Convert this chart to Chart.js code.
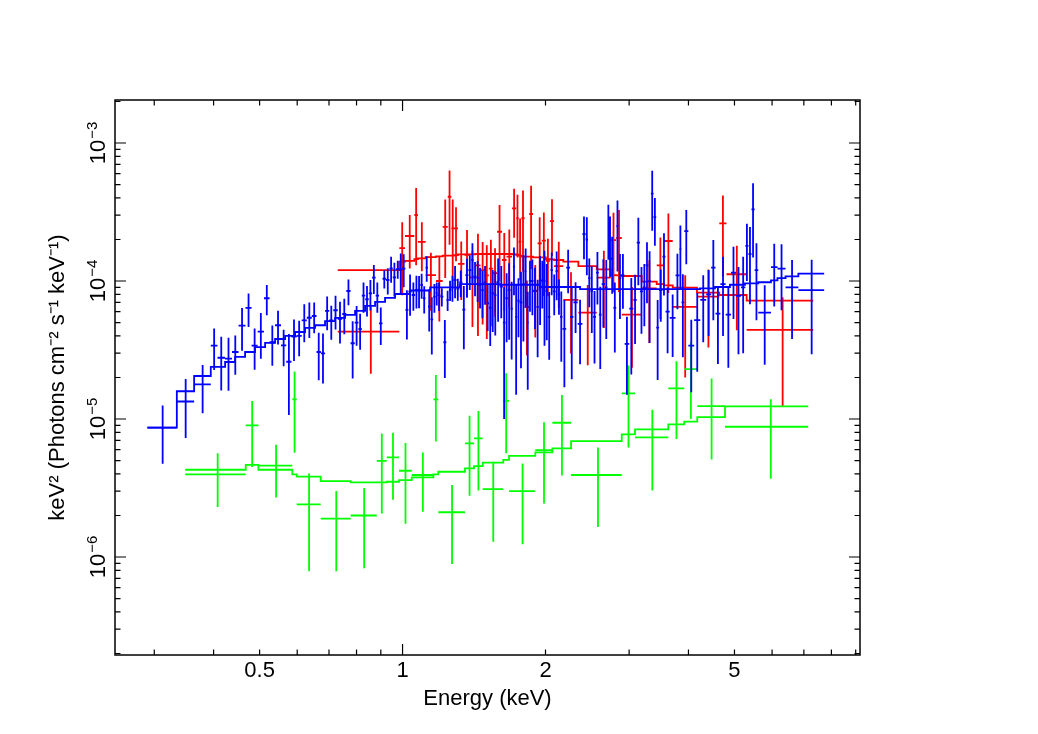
<!DOCTYPE html>
<html lang="en">
<head>
    <meta charset="UTF-8">
    <title>Unfolded spectrum</title>
    <script src="https://cdn.jsdelivr.net/npm/chart.js"></script>
    <style>
        body { margin: 0; background: #fff; }
    </style>
</head>
<body>
    <canvas id="myChart" width="1038" height="734"></canvas>

    <script>
        // fluxes are given in units of 1e-5 keV^2 (photons cm^-2 s^-1 keV^-1), energies in keV
        const FLUX_UNIT = 1e-5;
        const X_MIN = 0.248, X_MAX = 9.19;
        const Y_MIN = 1.95e-7, Y_MAX = 2.05e-3;

        // blue group: bin edges, data, 1-sigma errors
        const blueEdges = [0.2902, 0.3347, 0.3640, 0.3946, 0.4076, 0.4227, 0.4373, 0.4515, 0.4669, 0.4809,
            0.4952, 0.5108, 0.5247, 0.5389, 0.5546, 0.5690, 0.5835, 0.5981, 0.6133, 0.6286,
            0.6441, 0.6589, 0.6731, 0.6867, 0.7008, 0.7148, 0.7303, 0.7464, 0.7614, 0.7771,
            0.7931, 0.8075, 0.8206, 0.8345, 0.8488, 0.8626, 0.8775, 0.8922, 0.9075, 0.9231,
            0.9385, 0.9536, 0.9689, 0.9850,
            0.9975, 1.0139, 1.0288, 1.0453, 1.0625, 1.0767, 1.0899, 1.1040, 1.1175, 1.1311,
            1.1449, 1.1598, 1.1740, 1.1865, 1.2010, 1.2187, 1.2366, 1.2520, 1.2660, 1.2815,
            1.2984, 1.3159, 1.3362, 1.3559, 1.3760, 1.3948, 1.4118, 1.4304, 1.4479, 1.4642,
            1.4821, 1.5016, 1.5205, 1.5391, 1.5579, 1.5772, 1.6016, 1.6265, 1.6463, 1.6665,
            1.6869, 1.7076, 1.7254, 1.7438, 1.7650, 1.7866, 1.8073, 1.8254, 1.8446, 1.8654,
            1.8882, 1.9131, 1.9371, 1.9589, 1.9796, 2.0008, 2.0238, 2.0485, 2.0736, 2.0990,
            2.1237, 2.146, 2.1722, 2.2112, 2.253, 2.2900, 2.3381, 2.3917, 2.4291, 2.4582,
            2.4880, 2.5185, 2.5549, 2.5905, 2.6258, 2.6691, 2.7016, 2.7238, 2.7462, 2.7799,
            2.8181, 2.8522, 2.8871, 2.9350, 3.0013, 3.0624, 3.1124, 3.162, 3.2085, 3.2509,
            3.2920, 3.3337, 3.3771, 3.4213, 3.4688, 3.5265, 3.5784, 3.6525, 3.7571, 3.8260,
            3.8670, 3.9189, 3.9980, 4.1122, 4.2363, 4.3586, 4.4649, 4.5603, 4.6689, 4.7910,
            4.9160, 5.0363, 5.1600, 5.2706, 5.3510, 5.4294, 5.5134, 5.6115, 5.9680, 6.1589,
            6.4050, 6.8158, 7.7239];
        const blueFlux = [0.865, 1.34, 1.78, 3.40, 2.78, 2.74, 3.06, 4.75, 6.38, 3.40,
            4.30, 7.50, 3.60, 4.78, 3.42, 2.60, 3.95, 4.00, 5.19, 5.42,
            5.58, 3.06, 2.99, 6.07, 5.19, 6.14, 5.31, 5.77, 8.47, 3.54,
            4.99, 4.49, 7.83, 7.38, 8.15, 10.57, 7.83, 4.94, 10.39, 10.17,
            12.35, 10.64, 12.2,
            12.0, 12.3, 6.17, 8.37, 7.92, 8.61, 8.61, 9.36, 7.50, 12.5,
            6.52, 5.28, 7.70, 8.2, 7.9, 7.70, 3.60, 7.29, 8.61, 9.0,
            10.17, 8.8, 9.79, 6.2, 11.05, 12.0, 14.2, 10.75, 10.5, 9.4,
            8.61, 9.79, 6.9, 6.4, 8.15, 7.9, 9.8, 9.10, 5.0, 7.5,
            8.6, 6.3, 12.7, 5.5, 7.2, 7.0, 9.5, 11.8, 5.0, 10,
            10, 8.5, 6.5, 10, 10.17, 10, 8.5, 5.5, 12.0, 8.4,
            11.8, 8, 5.5, 4.5, 12.5, 5.5, 7, 4.9, 21.9, 20,
            10.5, 8.5, 5.5, 11.5, 5.7, 9.5, 9.0, 25, 20, 14.5,
            6.4, 25, 10.5, 11, 3.5, 6.3, 7.3, 19, 8.4, 9.0,
            13, 10, 43, 29, 4.6, 8.6, 15, 6, 5.4, 11,
            17, 7, 23, 3.4, 5.2, 7.3, 8, 12.5, 5.8, 9.5,
            5.7, 11.5, 7.8, 9, 18, 15.7, 33, 12, 5.9, 12.6,
            12.3, 9, 8.6];
        const blueErr = [0.39, 0.61, 0.68, 1.13, 1.17, 1.14, 0.97, 1.63, 1.74, 1.12,
            1.57, 1.84, 1.17, 1.31, 1.01, 1.53, 1.32, 1.15, 1.59, 1.56,
            1.40, 1.15, 1.18, 1.67, 1.43, 1.69, 1.78, 1.66, 1.79, 1.57,
            1.60, 1.31, 1.94, 1.84, 2.03, 2.52, 1.94, 1.50, 1.57, 2.20,
            2.63, 2.92, 1.80,
            3.86, 3.3, 2.4, 2.77, 1.83, 2.29, 2.27, 1.93, 1.68, 2.6,
            2.22, 2.35, 1.81, 1.54, 1.84, 1.17, 1.62, 1.22, 1.44, 1.93,
            2.67, 1.6, 2.15, 3.0, 3.45, 3.4, 4.6, 3.0, 3.45, 3.08,
            3.24, 3.07, 2.56, 3.02, 3.87, 3.87, 4.74, 3.73, 4.0, 3.9,
            4.85, 3.6, 4.8, 4.0, 3.28, 4.67, 5.86, 5.4, 3.37, 4.0,
            4.34, 4.0, 3.7, 5.2, 3.84, 6.6, 4.77, 2.81, 4.1, 2.76,
            4.55, 2.3, 2.9, 2.8, 4.34, 3.56, 2.8, 2.41, 7.5, 9.0,
            4.05, 4.3, 2.97, 4.75, 3.4, 4.9, 5.2, 10.75, 9.3, 6.4,
            3.36, 13.3, 5.2, 4.7, 2.0, 4.2, 3.8, 9.7, 4.25, 4.3,
            6.1, 6.45, 19.9, 11.0, 2.68, 3.53, 7.15, 3.0, 2.58, 4.75,
            8.3, 4.2, 9.75, 1.84, 3.0, 3.7, 4.0, 7.3, 3.3, 5.5,
            3.35, 6.2, 4.85, 6.0, 8.0, 8.9, 18.2, 6.8, 3.43, 6.05,
            6.15, 5.2, 5.65];
        // blue model, drawn as a histogram
        const blueModelEdges = [0.2902, 0.3347, 0.3640, 0.3946, 0.4230, 0.4440, 0.4660, 0.4891, 0.5135, 0.5389,
            0.5658, 0.5939, 0.6233, 0.6542, 0.6867, 0.7208, 0.7567, 0.7943, 0.8338, 0.8752,
            0.9187, 0.9643, 1.037, 1.143, 1.321, 1.604, 1.948, 2.365, 4.230, 4.549,
            4.892, 5.261, 5.6115, 5.968, 6.159, 6.405, 6.816, 7.724];
        const blueModel = [0.865, 1.59, 2.05, 2.39, 2.59, 2.82, 3.06, 3.32, 3.56, 3.80,
            4.00, 4.27, 4.57, 4.78, 5.13, 5.40, 5.68, 6.07, 6.60, 7.05,
            7.54, 8.05, 8.54, 9.0, 9.5, 9.4, 9.05, 8.75, 8.86, 9.05,
            9.4, 9.6, 9.8, 10.1, 10.5, 10.8, 11.3];

        // red group
        const redEdges = [0.7303, 0.9845, 1.0121, 1.0588, 1.0775, 1.1186, 1.1760, 1.2148, 1.2450, 1.2669,
            1.2837, 1.3083, 1.3502, 1.3837, 1.4232, 1.4595, 1.4895, 1.5194, 1.5500, 1.5816,
            1.6196, 1.6557, 1.7003, 1.7349, 1.7569, 1.7791, 1.8073, 1.8478, 1.8823, 1.9245,
            1.9642, 2.0037, 2.0430, 2.0851, 2.1806, 2.3455, 2.5637, 2.7443, 2.8181, 2.8948,
            3.1882, 3.4296, 3.5523, 3.7063, 4.1687, 4.6451, 4.8098, 5.3045, 7.3261];
        const redFlux = [4.30, 17.3, 21.2, 30.1, 19.2, 11.05, 10, 24.7, 40.8, 24.1,
            24.1, 13.3, 15.5, 10.64, 13, 12, 11, 12.3, 11.4, 22.75,
            14.2, 15, 33.6, 28.5, 19.25, 28.5, 6.5, 30.6, 8.47, 18.74,
            19.6, 14, 27.2, 12.83, 7.29, 5.9, 10.57, 19.8, 20.5, 5.7,
            8.86, 13, 19.5, 6.5, 7.7, 26.2, 11.2, 4.42];
        const redErr = [2.17, 9.4, 8.9, 17.1, 7.45, 4.95, 4.9, 14.2, 22.5, 14.9,
            10.2, 6.0, 7.9, 6.0, 9.0, 7.15, 7.2, 7.6, 5.9, 12.8,
            8.1, 8.6, 13.0, 13.7, 9.1, 16.8, 3.6, 18.4, 4.57, 10.2,
            11.8, 6.25, 12, 6.45, 4.3, 3.45, 6.0, 11.5, 12.2, 3.35,
            5.3, 7.7, 11.3, 4.5, 4.4, 15.4, 6.8, 3.2];
        const redModel = [12.0, 13.8, 14.0, 14.4, 14.6, 14.9, 15.1, 15.26, 15.3, 15.3,
            15.4, 15.6, 15.6, 15.6, 15.7, 15.7, 15.7, 15.7, 15.7, 15.7,
            15.7, 15.7, 15.6, 15.5, 15.3, 15.0, 15.0, 15.0, 14.85, 14.85,
            14.85, 14.4, 14.37, 14.2, 13.8, 12.83, 12.14, 11.05, 11.0, 10.87,
            9.89, 9.51, 9.3, 8.95, 8.23, 7.92, 7.92, 7.21];

        // green group
        const greenEdges = [0.3485, 0.4675, 0.4971, 0.5861, 0.5987, 0.6725, 0.7778, 0.8824, 0.9263, 0.9831,
            1.0456, 1.1614, 1.1891, 1.3535, 1.4142, 1.4752, 1.6298, 1.6758, 1.9032, 2.0679,
            2.2640, 2.8948, 3.0871, 3.6278, 3.9200, 4.1749, 4.7757, 7.1507];
        const greenFlux = [0.397, 0.90, 0.46, 1.39, 0.241, 0.19, 0.20, 0.497, 0.528, 0.422,
            0.393, 1.386, 0.211, 0.666, 0.724, 0.31, 1.354, 0.30, 0.596, 0.94,
            0.393, 1.533, 0.736, 1.667, 2.30, 1.24, 0.879];
        const greenErr = [0.167, 0.45, 0.19, 0.82, 0.162, 0.111, 0.117, 0.29, 0.268, 0.248,
            0.18, 0.70, 0.122, 0.388, 0.42, 0.181, 0.79, 0.176, 0.352, 0.55,
            0.228, 0.91, 0.432, 0.95, 1.3, 0.73, 0.51];
        const greenModel = [0.429, 0.465, 0.429, 0.397, 0.382, 0.355, 0.347, 0.347, 0.351, 0.361,
            0.378, 0.397, 0.415, 0.439, 0.456, 0.483, 0.505, 0.540, 0.574, 0.613,
            0.692, 0.774, 0.842, 0.915, 0.956, 1.033, 1.234];

        // axis ticks and labels
        const xTickLabels = [0.5, 1, 2, 5];
        const xMajorTicks = [1];
        const xMinorTicks = [0.3, 0.4, 0.5, 0.6, 0.7, 0.8, 0.9, 2, 3, 4, 5, 6, 7, 8, 9];
        const yTickPowers = [-3, -4, -5, -6];

        const FONT = '"Liberation Sans", Arial, Helvetica, sans-serif';

        // crosses: horizontal bar over the bin, vertical bar for the error
        function crossPoints(edges, flux, err) {
            const pts = [];
            flux.forEach((f, i) => {
                const lo = edges[i], hi = edges[i + 1], mid = (lo + hi) / 2;
                const v = f * FLUX_UNIT, e = err[i] * FLUX_UNIT;
                pts.push({x: lo, y: v}, {x: hi, y: v}, {x: mid, y: null});
                pts.push({x: mid, y: Math.max(v - e, Y_MIN)}, {x: mid, y: v + e}, {x: mid, y: null});
            });
            return pts;
        }

        // model histogram
        function stepPoints(edges, model) {
            const pts = [];
            model.forEach((m, i) => {
                pts.push({x: edges[i], y: m * FLUX_UNIT}, {x: edges[i + 1], y: m * FLUX_UNIT});
            });
            return pts;
        }

        function series(label, data, color, order) {
            return {
                label: label,
                data: data,
                borderColor: color,
                backgroundColor: color,
                borderWidth: 1.8,
                pointRadius: 0,
                spanGaps: false,
                tension: 0,
                order: order
            };
        }

        // box and inward ticks on all four sides, rotated y labels
        const frame = {
            id: 'frame',
            afterDatasetsDraw(chart) {
                const {ctx, chartArea: a, scales: {x, y}} = chart;
                ctx.save();
                ctx.strokeStyle = '#000';
                ctx.lineWidth = 1.2;
                ctx.beginPath();
                const xTick = (v, len) => {
                    const px = x.getPixelForValue(v);
                    ctx.moveTo(px, a.bottom); ctx.lineTo(px, a.bottom - len);
                    ctx.moveTo(px, a.top); ctx.lineTo(px, a.top + len);
                };
                const yTick = (v, len) => {
                    const py = y.getPixelForValue(v);
                    if (py < a.top || py > a.bottom) return;
                    ctx.moveTo(a.left, py); ctx.lineTo(a.left + len, py);
                    ctx.moveTo(a.right, py); ctx.lineTo(a.right - len, py);
                };
                xMinorTicks.forEach(v => xTick(v, 5.5));
                xMajorTicks.forEach(v => xTick(v, 11));
                for (let p = -7; p <= -3; p++) {
                    for (let m = 2; m <= 9; m++) yTick(m * Math.pow(10, p), 5.5);
                }
                yTickPowers.forEach(p => yTick(Math.pow(10, p), 11));
                ctx.stroke();

                ctx.lineWidth = 1.5;
                ctx.strokeRect(a.left, a.top, a.right - a.left, a.bottom - a.top);

                ctx.fillStyle = '#000';
                ctx.textBaseline = 'alphabetic';
                ctx.textAlign = 'left';
                yTickPowers.forEach(p => {
                    const py = y.getPixelForValue(Math.pow(10, p));
                    const base = '10', sup = '\u2212' + Math.abs(p);
                    ctx.font = '22px ' + FONT;
                    const w1 = ctx.measureText(base).width;
                    ctx.font = '15px ' + FONT;
                    const w2 = ctx.measureText(sup).width;
                    ctx.save();
                    ctx.translate(a.left - 10, py);
                    ctx.rotate(-Math.PI / 2);
                    const start = -(w1 + w2 + 1) / 2;
                    ctx.font = '22px ' + FONT;
                    ctx.fillText(base, start, 0);
                    ctx.font = '15px ' + FONT;
                    ctx.fillText(sup, start + w1 + 1, -8);
                    ctx.restore();
                });
                ctx.restore();
            }
        };

        const ctx = document.getElementById('myChart').getContext('2d');
        const myChart = new Chart(ctx, {
            type: 'line',
            data: {
                datasets: [
                    series('blue data', crossPoints(blueEdges, blueFlux, blueErr), '#0000ff', 0),
                    series('blue model', stepPoints(blueModelEdges, blueModel), '#0000ff', 1),
                    series('green data', crossPoints(greenEdges, greenFlux, greenErr), '#00ff00', 2),
                    series('green model', stepPoints(greenEdges, greenModel), '#00ff00', 3),
                    series('red data', crossPoints(redEdges, redFlux, redErr), '#ff0000', 4),
                    series('red model', stepPoints(redEdges, redModel), '#ff0000', 5)
                ]
            },
            options: {
                responsive: false,
                animation: false,
                devicePixelRatio: 1,
                events: [],
                layout: {
                    padding: {left: 40.8, right: 178, top: 100, bottom: 17.8}
                },
                plugins: {
                    legend: {display: false},
                    tooltip: {enabled: false}
                },
                scales: {
                    x: {
                        type: 'logarithmic',
                        position: 'bottom',
                        min: X_MIN,
                        max: X_MAX,
                        bounds: 'data',
                        grid: {display: false, drawTicks: false},
                        border: {display: false},
                        afterBuildTicks: (scale) => {
                            scale.ticks = xTickLabels.map(v => ({value: v}));
                        },
                        ticks: {
                            autoSkip: false,
                            maxRotation: 0,
                            padding: 3,
                            color: '#000',
                            font: {family: FONT, size: 22},
                            callback: (value) => String(value)
                        },
                        title: {
                            display: true,
                            text: 'Energy (keV)',
                            color: '#000',
                            font: {family: FONT, size: 22},
                            padding: {top: 0, bottom: 4}
                        },
                        afterFit: (scale) => { scale.height = 61.2; }
                    },
                    y: {
                        type: 'logarithmic',
                        min: Y_MIN,
                        max: Y_MAX,
                        bounds: 'data',
                        grid: {display: false, drawTicks: false},
                        border: {display: false},
                        ticks: {display: false},
                        title: {
                            display: true,
                            text: 'keV\u00b2 (Photons cm\u207b\u00b2 s\u207b\u00b9 keV\u207b\u00b9)',
                            color: '#000',
                            font: {family: FONT, size: 22},
                            padding: {top: 4, bottom: 4}
                        },
                        afterFit: (scale) => { scale.width = 74.2; }
                    }
                }
            },
            plugins: [frame]
        });
    </script>
</body>
</html>
